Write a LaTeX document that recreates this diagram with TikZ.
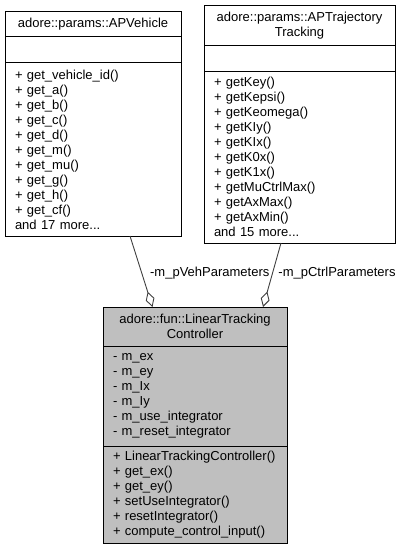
\documentclass[tikz,border=0pt]{standalone}
\usepackage{fontspec}
\setmainfont{Liberation Sans}
\usepackage{xcolor}
\usepackage{tikz}
\usetikzlibrary{positioning,arrows.meta}

\definecolor{edgegray}{HTML}{404040}
\definecolor{boxgray}{HTML}{BFBFBF}

\tikzset{
  umlpart/.style={draw, rectangle, outer sep=0pt, inner xsep=10pt, inner ysep=0pt,
    font=\fontsize{13}{15}\selectfont, line width=1pt},
  umlname/.style={umlpart, align=center},
  umllist/.style={umlpart, align=left},
  aggr/.style={draw=edgegray, line width=0.9pt, -{Diamond[open, length=16pt, width=9pt]}},
  rolelabel/.style={font=\fontsize{13}{15}\selectfont, inner sep=0pt, anchor=west}
}

\begin{document}
\begin{tikzpicture}[x = 1pt, y = -1pt]
  \useasboundingbox (0, 0) rectangle (401, 551);

  % adore::params::APVehicle
  \node[umlname, text width = 156pt, minimum height = 25pt, anchor = north west] (vehName) at (5, 12){
    adore::params::APVehicle
  };

  \node[umllist, text width = 156pt, minimum height = 26pt, below = 0pt of vehName] (vehAttr){};

  \node[umllist, text width = 156pt, minimum height = 173pt, below = 0pt of vehAttr] (vehOps){
    + get\_vehicle\_id()\\
    + get\_a()\\
    + get\_b()\\
    + get\_c()\\
    + get\_d()\\
    + get\_m()\\
    + get\_mu()\\
    + get\_g()\\
    + get\_h()\\
    + get\_cf()\\
    and 17 more...
  };

  % adore::params::APTrajectoryTracking
  \node[umlname, text width = 171pt, minimum height = 40pt, anchor = north west] (trajName) at (204, 6){
    adore::params::APTrajectory\\
    Tracking
  };

  \node[umllist, text width = 171pt, minimum height = 25pt, below = 0pt of trajName] (trajAttr){};

  \node[umllist, text width = 171pt, minimum height = 172pt, below = 0pt of trajAttr] (trajOps){
    + getKey()\\
    + getKepsi()\\
    + getKeomega()\\
    + getKIy()\\
    + getKIx()\\
    + getK0x()\\
    + getK1x()\\
    + getMuCtrlMax()\\
    + getAxMax()\\
    + getAxMin()\\
    and 15 more...
  };

  % adore::fun::LinearTrackingController
  \node[umlname, fill = boxgray, text width = 164pt, minimum height = 39pt, anchor = north west] (ctrlName) at (103, 307){
    adore::fun::LinearTracking\\
    Controller
  };

  \node[umllist, fill = boxgray, text width = 164pt, minimum height = 100pt, below = 0pt of ctrlName] (ctrlAttr){
    - m\_ex\\
    - m\_ey\\
    - m\_Ix\\
    - m\_Iy\\
    - m\_use\_integrator\\
    - m\_reset\_integrator
  };

  \node[umllist, fill = boxgray, text width = 164pt, minimum height = 97pt, below = 0pt of ctrlAttr] (ctrlOps){
    + LinearTrackingController()\\
    + get\_ex()\\
    + get\_ey()\\
    + setUseIntegrator()\\
    + resetIntegrator()\\
    + compute\_control\_input()
  };

  \draw[aggr] ([xshift = 125pt]vehOps.south west) -- node[rolelabel, pos = 0.52, xshift = 8pt]{-m\_pVehParameters} ([xshift = 49.5pt]ctrlName.north west);
  \draw[aggr] ([xshift = 77pt]trajOps.south west) -- node[rolelabel, pos = 0.47, xshift = 5.5pt]{-m\_pCtrlParameters} ([xshift = 160pt]ctrlName.north west);
\end{tikzpicture}
\end{document}
